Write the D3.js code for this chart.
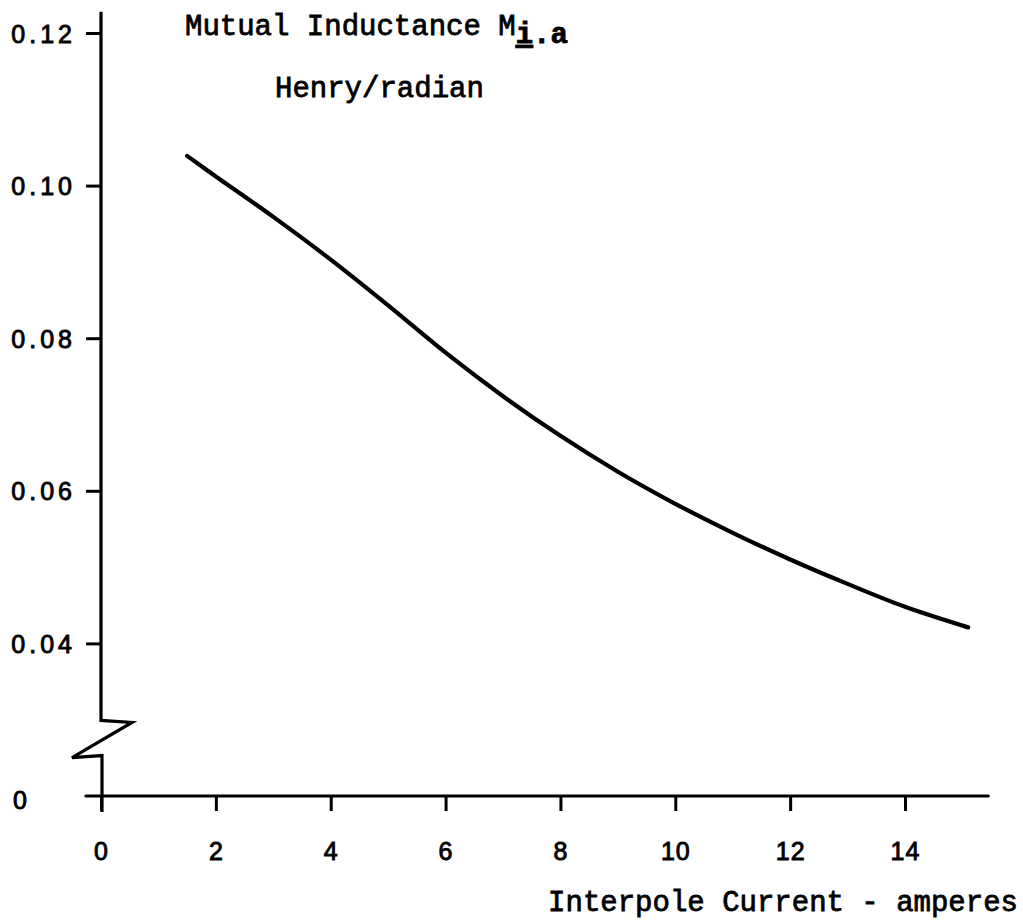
<!DOCTYPE html>
<html>
<head>
<meta charset="utf-8">
<script src="https://cdn.jsdelivr.net/npm/d3@7"></script>
<style>
  html, body { margin: 0; padding: 0; background: #fff; }
  svg { display: block; }
  .mono { font-family: "Liberation Mono", "DejaVu Sans Mono", monospace; fill: #000; stroke: #000; stroke-width: 0.8px; }
  .num { font-family: "Liberation Sans", "DejaVu Sans", sans-serif; fill: #000; stroke: #000; stroke-width: 0.9px; }
</style>
</head>
<body>
<svg id="chart" width="1023" height="921"></svg>
<script>
// Interpole current (A) and mutual inductance (H/rad)
const current = [1.5, 2, 3, 4, 5, 6, 7, 8, 9, 10, 11, 12, 13, 14, 15.1];
const inductance = [0.1039, 0.1012, 0.0959, 0.0903, 0.0843, 0.0781, 0.0724, 0.0672,
                    0.0625, 0.0583, 0.0545, 0.0510, 0.0478, 0.0448, 0.0421];

const xTicks = [0, 2, 4, 6, 8, 10, 12, 14];
const yTicks = [0.04, 0.06, 0.08, 0.10, 0.12];
const yOriginLabel = "0";
const yBreakValue = 0.02;          // suppressed-zero baseline of the y axis
const yBreakTop = 0.0299, yBreakBottom = 0.0253;

const svg = d3.select("#chart");

const x = d3.scaleLinear().domain([0, 14]).range([101, 905]);
const y = d3.scaleLinear().domain([yBreakValue, 0.12]).range([796, 33]);

const ink = "#000";

// x axis
const xAxis = d3.axisBottom(x).tickValues(xTicks).tickSize(15).tickSizeOuter(0)
  .tickFormat(d3.format("d"));
const gx = svg.append("g").attr("transform", `translate(0,${y(yBreakValue)})`).call(xAxis);
gx.select(".domain").remove();
gx.selectAll(".tick line").attr("stroke", ink).attr("stroke-width", 3).attr("y1", 1);
gx.selectAll(".tick text").attr("class", "num").attr("y", 64).attr("dy", null)
  .attr("font-size", 25).attr("letter-spacing", 1);
svg.append("line")
  .attr("x1", x(0) - 15).attr("x2", x(15.45))
  .attr("y1", y(yBreakValue)).attr("y2", y(yBreakValue))
  .attr("stroke", ink).attr("stroke-width", 3.2).attr("stroke-linecap", "round");

// y axis ticks
const yAxis = d3.axisLeft(y).tickValues(yTicks).tickSize(15).tickSizeOuter(0)
  .tickPadding(10).tickFormat(d3.format(".2f"));
const gy = svg.append("g").attr("transform", `translate(${x(0)},0)`).call(yAxis);
gy.select(".domain").remove();
gy.selectAll(".tick line").attr("stroke", ink).attr("stroke-width", 3);
gy.selectAll(".tick text").attr("class", "num").attr("dy", "0.36em")
  .attr("font-size", 25).attr("letter-spacing", 4);

// origin label on the broken y axis
svg.append("text").attr("class", "num")
  .attr("x", 20).attr("y", y(yBreakValue) + 13)
  .attr("text-anchor", "middle")
  .attr("font-size", 25)
  .text(yOriginLabel);

// y axis line with the zig-zag break near the origin
const x0 = x(0);
const axisPath = d3.path();
axisPath.moveTo(x0, y(0.1228));
axisPath.lineTo(x0, y(yBreakTop));
axisPath.lineTo(x0 + 31, y(yBreakTop) + 2);
axisPath.lineTo(x0 - 29, y(yBreakBottom) + 2);
axisPath.lineTo(x0 + 1, y(yBreakBottom));
axisPath.lineTo(x0 + 1, y(yBreakValue) + 16);
svg.append("path").attr("d", axisPath.toString())
  .attr("fill", "none").attr("stroke", ink).attr("stroke-width", 3.2)
  .attr("stroke-linejoin", "miter");

// curve
const line = d3.line().x((d, i) => x(current[i])).y(d => y(d)).curve(d3.curveCatmullRom);
svg.append("path").datum(inductance)
  .attr("d", line)
  .attr("fill", "none").attr("stroke", ink).attr("stroke-width", 4.2)
  .attr("stroke-linecap", "round");

// titles
const title = svg.append("text").attr("class", "mono")
  .attr("x", 185).attr("y", 35).attr("font-size", 29);
title.append("tspan").text("Mutual Inductance M");
title.append("tspan").attr("dy", 8).attr("font-weight", "bold")
  .attr("text-decoration", "underline").text("i");
title.append("tspan").attr("font-weight", "bold").text(".a");

svg.append("text").attr("class", "mono")
  .attr("x", 275).attr("y", 97).attr("font-size", 29)
  .text("Henry/radian");

svg.append("text").attr("class", "mono")
  .attr("x", 1018).attr("y", 911).attr("text-anchor", "end").attr("font-size", 29)
  .text("Interpole Current - amperes");
</script>
</body>
</html>
